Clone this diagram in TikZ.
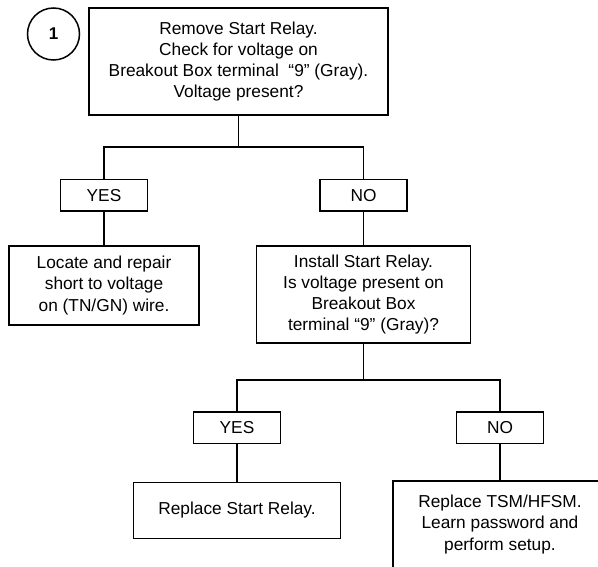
\documentclass[tikz,border=0pt]{standalone}
\usepackage{fontspec}
\setmainfont{Liberation Sans}
\begin{document}
\begin{tikzpicture}[x=1pt,y=-1pt,
  line width=1.5pt,
  every node/.style={font=\fontsize{17.3}{21.3}\selectfont, inner sep=0pt},
  box/.style={draw, rectangle, align=center},
  answer/.style={draw, rectangle, minimum width=87pt, minimum height=31.5pt},
  stepnum/.style={draw, circle, minimum size=52pt, font=\fontsize{17}{20}\selectfont\bfseries}]
\useasboundingbox (0,0) rectangle (598,567);
\clip (0,0) rectangle (598,567);

% step number
\node[stepnum] (num) at (53.5,34) {1};

% first check
\node[box, minimum width=299pt, minimum height=107pt] (top) at (238.5,61.5)
  {Remove Start Relay.\\Check for voltage on\\Breakout Box terminal ~“9” (Gray).\\Voltage present?};

\node[answer] (yes1) at (104,195.5) {YES};
\node[answer] (no1) at (363.5,195.5) {NO};

\node[box, minimum width=190pt, minimum height=79pt] (loc) at (104,285.5)
  {Locate and repair\\short to voltage\\on (TN/GN) wire.};

% second check
\node[box, minimum width=214pt, minimum height=97pt] (inst) at (363.5,294.5)
  {Install Start Relay.\\Is voltage present on\\Breakout Box\\terminal “9” (Gray)?};

\node[answer] (yes2) at (237,427.5) {YES};
\node[answer] (no2) at (500,427.5) {NO};

\node[box, minimum width=207pt, minimum height=56pt] (rep) at (237,510.5)
  {Replace Start Relay.};
\node[box, minimum width=214pt, minimum height=87pt] (tsm) at (500,524.5)
  {Replace TSM/HFSM.\\Learn password and\\perform setup.};

% connectors
\coordinate (j1) at (238.5,147);
\coordinate (j2) at (363.5,380);
\draw (top.south) -- (j1);
\draw (yes1.north) |- (j1) -| (no1.north);
\draw (yes1.south) -- (loc.north);
\draw (no1.south) -- (inst.north);
\draw (inst.south) -- (j2);
\draw (yes2.north) |- (j2) -| (no2.north);
\draw (yes2.south) -- (rep.north);
\draw (no2.south) -- (tsm.north);
\end{tikzpicture}
\end{document}
